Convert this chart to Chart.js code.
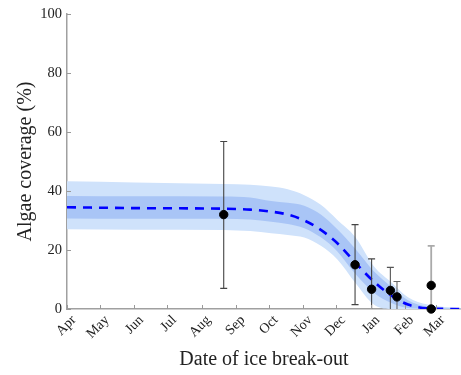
<!DOCTYPE html>
<html lang="en">
<head>
<meta charset="UTF-8">
<title>Algae coverage vs date of ice break-out</title>
<style>
  body { margin: 0; padding: 0; background: #fff; }
  #wrap { width: 461px; height: 375px; position: relative; }
</style>
</head>
<body>
<div id="wrap"><canvas id="grafico"></canvas></div>
<script src="https://cdn.jsdelivr.net/npm/chart.js"></script>
<script>
  // months (days since 1 Apr)
  const monthLabels = ['Apr', 'May', 'Jun', 'Jul', 'Aug', 'Sep', 'Oct', 'Nov', 'Dec', 'Jan', 'Feb', 'Mar'];
  const monthDays = [0, 30, 61, 91, 122, 153, 183, 214, 244, 275, 306, 334];
  const yTicks = [0, 20, 40, 60, 80, 100];

  // model fit and credible bands
  const modelDays = [0, 61, 142, 166, 185, 200, 215, 230, 245, 261, 278, 294, 309, 327, 357];
  const modelMean = [34.5, 34.2, 34.0, 33.7, 33.0, 32.0, 30.0, 26.8, 22.3, 15.8, 9.3, 4.5, 1.5, 0.2, 0];
  const innerLow  = [30.7, 30.6, 30.6, 30.3, 29.6, 28.8, 27.4, 24.3, 19.5, 12.0, 5.5, 2.0, 0.3, 0, 0];
  const innerHigh = [38.3, 38.2, 38.1, 37.8, 36.6, 36.0, 35.0, 32.0, 27.0, 20.5, 12.8, 7.5, 3.0, 0.8, 0.1];
  const outerLow  = [27.0, 26.9, 26.8, 26.4, 25.7, 25.1, 24.2, 21.4, 16.8, 9.0, 1.5, 0, 0, 0, 0];
  const outerHigh = [43.3, 42.9, 42.4, 42.1, 41.5, 40.6, 38.6, 35.3, 30.2, 24.5, 14.5, 9.0, 4.0, 1.5, 0.2];

  // observations
  const obsDays  = [142, 261, 276, 293, 299, 330, 330];
  const obsCover = [32.0, 15.0, 6.7, 6.3, 4.1, 8.0, 0];
  const obsLow   = [7.0, 1.5, 0, 0, 0, 0, 0];
  const obsHigh  = [56.8, 28.6, 17.0, 14.1, 9.3, 21.4, 0];
  const obsBarColor = ['#444', '#444', '#444', '#555', '#666', '#aaa', '#aaa'];

  const pts = (xs, ys) => xs.map((x, i) => ({ x: x, y: ys[i] }));
  const serif = "'Liberation Serif', 'DejaVu Serif', serif";

  const errorBars = {
    id: 'errorBars',
    beforeDatasetDraw(chart, args) {
      if (args.index !== 0) return;
      const ctx = chart.ctx, xs = chart.scales.x, ys = chart.scales.y;
      ctx.save();
      obsDays.forEach((d, i) => {
        if (obsHigh[i] === obsLow[i]) return;
        const px = xs.getPixelForValue(d);
        const top = ys.getPixelForValue(obsHigh[i]);
        const bot = ys.getPixelForValue(obsLow[i]);
        ctx.strokeStyle = obsBarColor[i];
        ctx.lineWidth = obsBarColor[i] === '#aaa' ? 1.8 : 1.1;
        ctx.beginPath();
        ctx.moveTo(px, top); ctx.lineTo(px, bot);
        ctx.moveTo(px - 3.5, top); ctx.lineTo(px + 3.5, top);
        if (obsLow[i] > 0) { ctx.moveTo(px - 3.5, bot); ctx.lineTo(px + 3.5, bot); }
        ctx.stroke();
      });
      ctx.restore();
    }
  };

  const innerTicks = {
    id: 'innerTicks',
    afterDraw(chart) {
      const ctx = chart.ctx, xs = chart.scales.x, ys = chart.scales.y;
      const a = chart.chartArea;
      ctx.save();
      ctx.strokeStyle = '#999';
      ctx.lineWidth = 1;
      ctx.beginPath();
      monthDays.forEach(d => {
        const px = Math.round(xs.getPixelForValue(d)) + 0.5;
        ctx.moveTo(px, a.bottom); ctx.lineTo(px, a.bottom - 4);
      });
      yTicks.forEach(v => {
        const py = Math.round(ys.getPixelForValue(v)) + 0.5;
        ctx.moveTo(a.left, py); ctx.lineTo(a.left + 4, py);
      });
      ctx.stroke();
      ctx.restore();
    }
  };

  new Chart(document.getElementById('grafico'), {
    type: 'line',
    data: {
      datasets: [
        {
          type: 'scatter',
          data: pts(obsDays, obsCover),
          backgroundColor: '#000',
          borderColor: '#000',
          pointRadius: 4.2,
          clip: false,
          order: 0
        },
        {
          data: pts(modelDays, modelMean),
          borderColor: '#0000ff',
          borderWidth: 2.6,
          borderDash: [9, 7],
          pointRadius: 0,
          cubicInterpolationMode: 'monotone',
          fill: false,
          order: 1
        },
        {
          data: pts(modelDays, innerLow),
          borderWidth: 0,
          borderColor: 'rgba(0,0,0,0)',
          pointRadius: 0,
          cubicInterpolationMode: 'monotone',
          fill: false,
          order: 2
        },
        {
          data: pts(modelDays, innerHigh),
          borderWidth: 0,
          borderColor: 'rgba(0,0,0,0)',
          backgroundColor: '#a9c5f6',
          pointRadius: 0,
          cubicInterpolationMode: 'monotone',
          fill: '-1',
          order: 2
        },
        {
          data: pts(modelDays, outerLow),
          borderWidth: 0,
          borderColor: 'rgba(0,0,0,0)',
          pointRadius: 0,
          cubicInterpolationMode: 'monotone',
          fill: false,
          order: 3
        },
        {
          data: pts(modelDays, outerHigh),
          borderWidth: 0,
          borderColor: 'rgba(0,0,0,0)',
          backgroundColor: '#cfe2fb',
          pointRadius: 0,
          cubicInterpolationMode: 'monotone',
          fill: '-1',
          order: 3
        }
      ]
    },
    options: {
      responsive: true,
      maintainAspectRatio: false,
      animation: false,
      layout: { autoPadding: false, padding: { top: 14, right: 0, left: 0, bottom: 0 } },
      plugins: { legend: { display: false }, tooltip: { enabled: false } },
      scales: {
        x: {
          type: 'linear',
          min: 0,
          max: 357,
          afterBuildTicks: s => { s.ticks = monthDays.map(v => ({ value: v })); },
          afterFit: s => { s.height = 66; s.paddingLeft = 0; s.paddingRight = 0; },
          grid: { display: false, drawTicks: false },
          border: { display: true, color: '#a0a0a0', width: 1.5 },
          ticks: {
            autoSkip: false,
            minRotation: 45,
            maxRotation: 45,
            padding: 3,
            labelOffset: 7,
            color: '#222',
            font: { family: serif, size: 14 },
            callback: v => monthLabels[monthDays.indexOf(v)]
          },
          title: {
            display: true,
            text: 'Date of ice break-out',
            color: '#222',
            font: { family: serif, size: 20 },
            padding: { top: 0, bottom: 3 }
          }
        },
        y: {
          min: 0,
          max: 100,
          afterBuildTicks: s => { s.ticks = yTicks.map(v => ({ value: v })); },
          afterFit: s => { s.width = 67; },
          grid: { display: false, drawTicks: false },
          border: { display: true, color: '#a0a0a0', width: 1.5 },
          ticks: {
            padding: 5,
            color: '#222',
            font: { family: serif, size: 14.5 }
          },
          title: {
            display: true,
            text: 'Algae coverage (%)',
            color: '#222',
            font: { family: serif, size: 20 },
            padding: { top: 14, bottom: 4 }
          }
        }
      }
    },
    plugins: [errorBars, innerTicks]
  });
</script>
</body>
</html>
